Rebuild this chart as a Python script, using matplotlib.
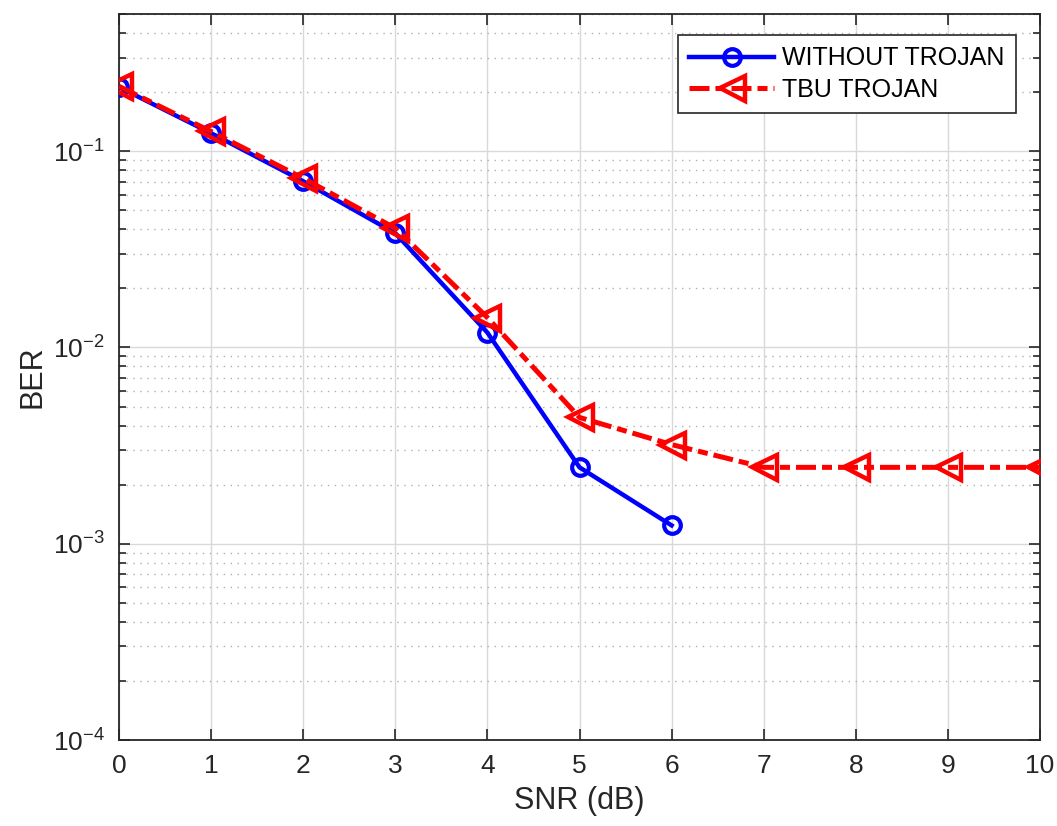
import matplotlib
matplotlib.use("Agg")
import matplotlib.pyplot as plt
from matplotlib.ticker import LogLocator, NullFormatter

plt.rcParams['font.family'] = ['Liberation Sans', 'DejaVu Sans']
plt.rcParams['mathtext.fontset'] = 'custom'
plt.rcParams['mathtext.rm'] = 'Liberation Sans'

# SNR points and BER values
snr_clean = [0, 1, 2, 3, 4, 5, 6]
ber_clean = [0.212, 0.1235, 0.0703, 0.0382, 0.0119, 0.00245, 0.00124]

snr_trojan = [0, 1, 2, 3, 4, 5, 6, 7, 8, 9, 10]
ber_trojan = [0.214, 0.126, 0.0728, 0.0405, 0.0142, 0.0044, 0.0032,
              0.00245, 0.00245, 0.00245, 0.00245]

fig = plt.figure(figsize=(10.57, 8.26), dpi=100)
ax = fig.add_axes([119 / 1057, 86 / 826, 921 / 1057, 726 / 826])

ax.semilogy(snr_clean, ber_clean, color='blue', lw=3.2, marker='o',
            ms=12, mfc='none', mew=3, label='WITHOUT TROJAN', zorder=3)
ax.semilogy(snr_trojan, ber_trojan, color='red', lw=3.6, ls=(0, (4, 1.2, 2, 1.2)),
            marker='<', ms=18, mfc='none', mew=3.2, label='TBU TROJAN', zorder=4)

ax.set_xlim(0, 10)
ax.set_ylim(1e-4, 0.5)
ax.set_xticks(range(0, 11))
ax.yaxis.set_major_locator(LogLocator(base=10, numticks=10))
ax.yaxis.set_minor_locator(LogLocator(base=10, subs=range(2, 10), numticks=20))
ax.yaxis.set_minor_formatter(NullFormatter())

ax.grid(True, which='major', color='#d9d9d9', lw=1, ls='-')
ax.grid(True, which='minor', axis='y', color='#b0b0b0', lw=1, ls=(0, (1, 4)))
ax.set_axisbelow(True)

for s in ax.spines.values():
    s.set_color('#262626')
    s.set_linewidth(1.3)
ax.tick_params(which='both', direction='in', top=True, right=True,
               colors='#262626', labelsize=19, width=1.2)
ax.tick_params(which='major', length=8, pad=10)
ax.tick_params(which='minor', length=5)

ax.set_xlabel('SNR (dB)', fontsize=22, color='#262626', labelpad=6)
ax.set_ylabel('BER', fontsize=22, color='#262626', labelpad=4)

leg = ax.legend(loc='upper right', bbox_to_anchor=(0.987, 0.988), fontsize=18,
                fancybox=False, framealpha=1, edgecolor='#262626',
                handlelength=3.4, borderpad=0.45, labelspacing=0.3,
                handletextpad=0.3)
leg.get_frame().set_linewidth(1.2)

fig.savefig('out.png', dpi=100)
